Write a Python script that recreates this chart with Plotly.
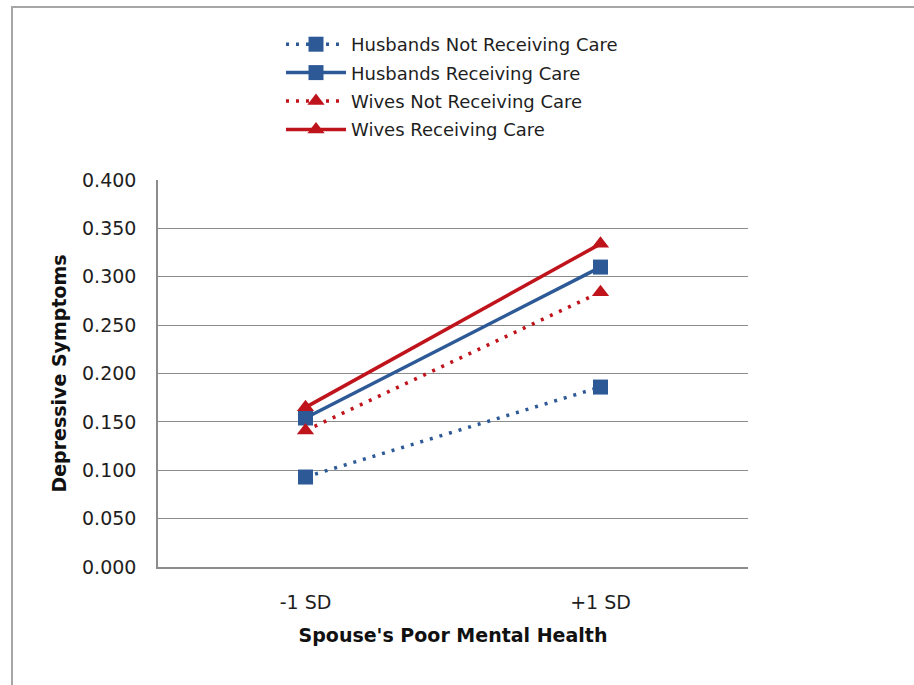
import plotly.graph_objects as go

# Categories and series values
categories = ["-1 SD", "+1 SD"]
husbands_not_receiving = [0.093, 0.186]
husbands_receiving = [0.154, 0.310]
wives_not_receiving = [0.141, 0.284]
wives_receiving = [0.165, 0.334]
y_ticks = [0.0, 0.05, 0.10, 0.15, 0.20, 0.25, 0.30, 0.35, 0.40]

BLUE = "#2D5A96"
RED = "#C0141C"
FONT = "DejaVu Sans, sans-serif"
TEXT = "#1E1E1E"
GRID = "#8C8C8C"
DOTTED = "3px,7px"

series = [
    ("Husbands Not Receiving Care", husbands_not_receiving, BLUE, DOTTED, "square"),
    ("Husbands Receiving Care", husbands_receiving, BLUE, "solid", "square"),
    ("Wives Not Receiving Care", wives_not_receiving, RED, DOTTED, "triangle-up"),
    ("Wives Receiving Care", wives_receiving, RED, "solid", "triangle-up"),
]

fig = go.Figure()
for i, (name, vals, color, dash, symbol) in enumerate(series):
    fig.add_trace(go.Scatter(
        x=categories, y=vals, name=name, mode="lines+markers",
        legendgroup=f"g{i}",
        line=dict(color=color, width=3.5, dash=dash),
        marker=dict(color=color, symbol=symbol, size=15),
    ))

W, H = 914, 685
L, R, T, B = 158, 166, 180, 118
pw, ph = W - L - R, H - T - B

def px_x(v):
    return (v - L) / pw

def px_y(v):
    return (H - B - v) / ph

fig.update_layout(
    width=W, height=H,
    margin=dict(l=L, r=R, t=T, b=B),
    paper_bgcolor="white", plot_bgcolor="white",
    font=dict(family=FONT, size=18, color=TEXT),
    showlegend=True,
    legend=dict(
        x=px_x(281), y=px_y(26), xanchor="left", yanchor="top",
        font=dict(family=FONT, size=18, color=TEXT),
        bgcolor="rgba(0,0,0,0)", tracegroupgap=2, itemwidth=60,
    ),
    xaxis=dict(
        type="category", range=[-0.5, 1.5],
        showgrid=False, showline=True, linecolor=GRID, linewidth=1.5,
        ticks="", ticklabelstandoff=17,
        tickfont=dict(family=FONT, size=19, color=TEXT),
        title=dict(text="<b>Spouse's Poor Mental Health</b>",
                   font=dict(family=FONT, size=19, color="#111111"), standoff=17),
        zeroline=False, fixedrange=True,
    ),
    yaxis=dict(
        range=[0, 0.4], tickvals=y_ticks, tickformat=".3f",
        showgrid=True, gridcolor=GRID, gridwidth=1,
        showline=True, linecolor=GRID, linewidth=1.5,
        ticks="", ticklabelstandoff=16,
        tickfont=dict(family=FONT, size=19, color=TEXT),
        title=dict(text="<b>Depressive Symptoms</b>",
                   font=dict(family=FONT, size=19, color="#111111"), standoff=10),
        zeroline=False, fixedrange=True,
    ),
    shapes=[dict(
        type="rect", xref="paper", yref="paper",
        x0=px_x(12), x1=px_x(930), y0=px_y(700), y1=px_y(7),
        line=dict(color="#A6A6A6", width=2), fillcolor="rgba(0,0,0,0)", layer="below",
    )],
)

fig.write_html("out.html")
